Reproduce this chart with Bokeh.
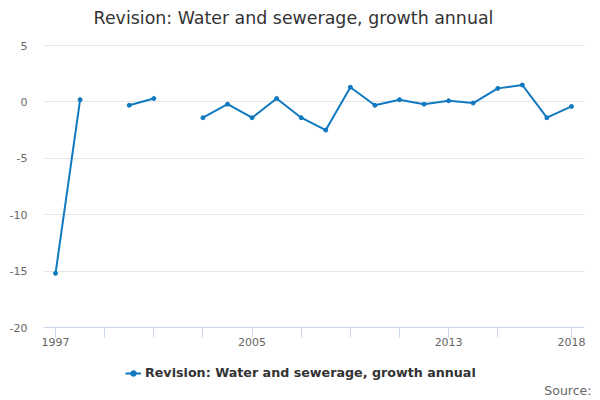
from bokeh.plotting import figure
from bokeh.models import Range1d, FixedTicker, Legend, LegendItem, Label, ColumnDataSource
from bokeh.layouts import column, row
from bokeh.embed import file_html
from bokeh.resources import INLINE
import numpy as np

years = list(range(1997, 2019))
values = [-15.2, 0.2, None, -0.3, 0.3, None, -1.4, -0.2, -1.4, 0.3, -1.4, -2.5,
          1.3, -0.3, 0.2, -0.2, 0.1, -0.1, 1.2, 1.5, -1.4, -0.4]
tick_years = [1997, 1999, 2001, 2003, 2005, 2007, 2009, 2011, 2013, 2015, 2018]
labeled_years = [1997, 2005, 2013, 2018]
y_ticks = [5, 0, -5, -10, -15, -20]
series_name = "Revision: Water and sewerage, growth annual"
title_text = "Revision: Water and sewerage, growth annual"
source_text = "Source:"

COLOR = "#1079bf"
FONT = "DejaVu Sans"

yv = np.array([np.nan if v is None else v for v in values], dtype=float)
src = ColumnDataSource(dict(x=years, y=yv))


def strip(height):
    # a text strip whose data coordinates are page pixels
    s = figure(width=600, height=height, output_backend="svg", toolbar_location=None,
               x_range=Range1d(0, 600), y_range=Range1d(0, height),
               min_border_left=0, min_border_right=0, min_border_top=0, min_border_bottom=0)
    s.outline_line_color = None
    s.axis.visible = False
    s.grid.visible = False
    return s


# title strip
t = strip(36)
t.add_layout(Label(x=293, y=19, text=title_text, text_align="center", text_baseline="middle",
                   text_font=FONT, text_font_size="17.4px", text_color="#333333"))

p = figure(width=600, height=316, output_backend="svg", toolbar_location=None,
           x_range=Range1d(1996.51, 2018.53), y_range=Range1d(-20, 5.09),
           min_border_left=43, min_border_right=16, min_border_top=8, min_border_bottom=25)
p.outline_line_color = None

p.line("x", "y", source=src, line_color=COLOR, line_width=2)
p.scatter("x", "y", source=src, size=4, fill_color=COLOR, line_color=COLOR)

# x axis
xa = p.xaxis[0]
xa.ticker = FixedTicker(ticks=tick_years)
xa.major_label_overrides = {y: (str(y) if y in labeled_years else "") for y in tick_years}
xa.axis_line_color = "#ccd6eb"
xa.major_tick_line_color = "#ccd6eb"
xa.major_tick_out = 10
xa.major_tick_in = 0
xa.minor_tick_line_color = None
xa.major_label_text_font = FONT
xa.major_label_text_font_size = "11px"
xa.major_label_text_color = "#666666"
xa.major_label_standoff = 0

# y axis
ya = p.yaxis[0]
ya.ticker = FixedTicker(ticks=y_ticks)
ya.major_label_overrides = {v: str(v) for v in y_ticks}
ya.axis_line_color = None
ya.major_tick_line_color = None
ya.minor_tick_line_color = None
ya.major_tick_out = 0
ya.major_tick_in = 0
ya.major_label_text_font = FONT
ya.major_label_text_font_size = "11px"
ya.major_label_text_color = "#666666"
ya.major_label_standoff = 16

p.xgrid.grid_line_color = None
p.ygrid.grid_line_color = "#e6e6e6"
p.ygrid.ticker = FixedTicker(ticks=y_ticks)

# legend strip
q = strip(48)
# same series (outside this strip's visible range) so the legend swatch is drawn
l1 = q.line("x", "y", source=src, line_color=COLOR, line_width=2)
l2 = q.scatter("x", "y", source=src, size=4, fill_color=COLOR, line_color=COLOR)
legend = Legend(items=[LegendItem(label=series_name, renderers=[l1, l2])],
                location=(125, 20), orientation="horizontal",
                label_text_font=FONT, label_text_font_size="12.7px",
                label_text_font_style="bold", label_text_color="#333333",
                border_line_color=None, background_fill_alpha=0,
                glyph_width=16, glyph_height=14, label_height=14,
                label_standoff=4, padding=0, margin=0)
q.add_layout(legend)

q.add_layout(Label(x=591, y=10, text=source_text, text_align="right", text_baseline="middle",
                   text_font=FONT, text_font_size="12.5px", text_color="#666666"))

layout = column(row(t), p, row(q), spacing=0)
open("out.html", "w").write(file_html(layout, INLINE))
